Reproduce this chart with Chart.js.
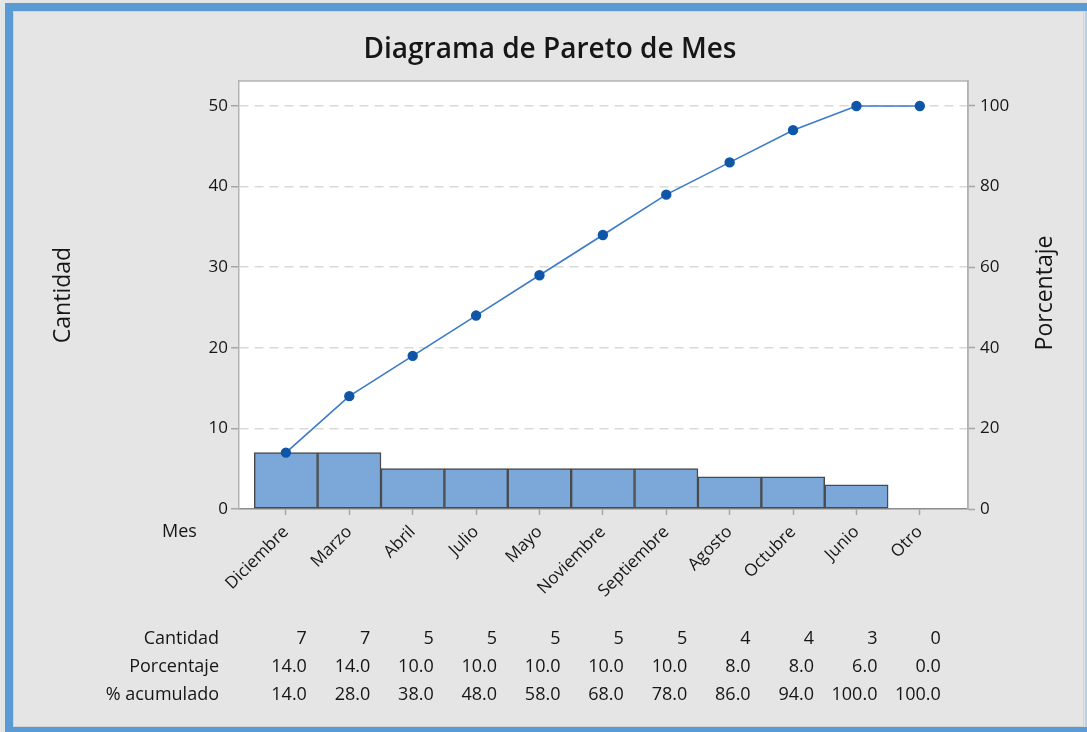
<!DOCTYPE html>
<html><head><meta charset="utf-8">
<script src="https://cdn.jsdelivr.net/npm/chart.js@4.4.0/dist/chart.umd.min.js"></script>
<style>html,body{margin:0;padding:0;background:#e5e5e5;}canvas{display:block;}</style>
</head><body>
<div style="width:1087px;height:732px;position:relative"><canvas id="c" width="1087" height="732"></canvas></div>
<script>
const categories = ["Diciembre","Marzo","Abril","Julio","Mayo","Noviembre","Septiembre","Agosto","Octubre","Junio","Otro"];
const counts = [7,7,5,5,5,5,5,4,4,3,0];
const percents = [14.0,14.0,10.0,10.0,10.0,10.0,10.0,8.0,8.0,6.0,0.0];
const cumulative = [14.0,28.0,38.0,48.0,58.0,68.0,78.0,86.0,94.0,100.0,100.0];
const leftTicks = [0,10,20,30,40,50];
const rightTicks = [0,20,40,60,80,100];
const rowLabels = ["Cantidad","Porcentaje","% acumulado"];
const titleText = "Diagrama de Pareto de Mes";

const FONT = "'Open Sans', 'Noto Sans', sans-serif";
const TXT = '#161616';

const deco = {
  id: 'deco',
  beforeDraw(chart) {
    const {ctx, chartArea: a} = chart;
    ctx.save();
    ctx.fillStyle = '#e5e5e5';
    ctx.fillRect(0, 0, chart.width, chart.height);
    ctx.fillStyle = '#5b9bd5';
    ctx.fillRect(5, 3, 1082, 8);
    ctx.fillRect(5, 3, 8, 729);
    ctx.fillRect(5, 727, 1082, 5);
    ctx.fillStyle = '#b7d0ea';
    ctx.fillRect(1085, 11, 2, 716);
    ctx.strokeStyle = '#d2d2d2';
    ctx.lineWidth = 1;
    ctx.strokeRect(13.5, 11.5, 1070, 715);
    ctx.fillStyle = '#ffffff';
    ctx.fillRect(a.left, a.top, a.right - a.left, a.bottom - a.top);
    ctx.restore();
  },
  afterDraw(chart) {
    const {ctx, chartArea: a, scales} = chart;
    ctx.save();
    ctx.strokeStyle = '#b3b3b3';
    ctx.lineWidth = 1.5;
    ctx.beginPath();
    ctx.moveTo(a.left, a.top); ctx.lineTo(a.right, a.top); ctx.lineTo(a.right, a.bottom);
    ctx.stroke();
    ctx.fillStyle = TXT;
    ctx.font = "600 28px " + FONT;
    ctx.textAlign = 'center'; ctx.textBaseline = 'middle';
    ctx.fillText(titleText, 550, 50);
    ctx.font = "23px " + FONT;
    ctx.save(); ctx.translate(63, 295); ctx.rotate(-Math.PI/2); ctx.fillText("Cantidad", 0, 0); ctx.restore();
    ctx.save(); ctx.translate(1045, 293); ctx.rotate(-Math.PI/2); ctx.fillText("Porcentaje", 0, 0); ctx.restore();
    ctx.font = "18px " + FONT;
    ctx.textAlign = 'left';
    ctx.fillText("Mes", 162, 532);
    const rows = [counts.map(v => String(v)), percents.map(v => v.toFixed(1)), cumulative.map(v => v.toFixed(1))];
    const rowY = [639, 667, 695];
    ctx.textAlign = 'right';
    rows.forEach((r, ri) => {
      ctx.fillText(rowLabels[ri], 219, rowY[ri]);
      r.forEach((t, i) => {
        const x = scales.x.getPixelForValue(i) + 21;
        ctx.fillText(t, x, rowY[ri]);
      });
    });
    ctx.restore();
  }
};

new Chart(document.getElementById('c'), {
  type: 'bar',
  data: {
    datasets: [
      {
        type: 'line',
        data: cumulative.map((v, i) => ({x: i, y: v})),
        yAxisID: 'y1',
        borderColor: '#3a7bc8',
        borderWidth: 1.6,
        pointBackgroundColor: '#0f56a8',
        pointBorderColor: '#0f56a8',
        pointRadius: 4.4,
        tension: 0
      },
      {
        type: 'bar',
        data: counts.map((v, i) => ({x: i, y: v})),
        yAxisID: 'y',
        backgroundColor: '#7ba7d9',
        borderColor: '#4a4a4a',
        borderWidth: 1.5,
        borderSkipped: false,
        barPercentage: 1,
        categoryPercentage: 1
      }
    ]
  },
  plugins: [deco],
  options: {
    responsive: false,
    animation: false,
    layout: {padding: {top: 81, left: 0, right: 0, bottom: 0}},
    plugins: {legend: {display: false}, tooltip: {enabled: false}, title: {display: false}},
    scales: {
      x: {
        type: 'linear',
        offset: false,
        min: -0.74,
        max: 10.76,
        afterFit(s) { s.height = 223; },
        afterBuildTicks(s) { s.ticks = categories.map((c, i) => ({value: i})); },
        ticks: {
          stepSize: 1, includeBounds: false, autoSkip: false,
          minRotation: 45, maxRotation: 45,
          color: TXT, font: {family: FONT, size: 17}, padding: 7,
          callback: (v) => categories[v] ?? ''
        },
        grid: {offset: false, drawOnChartArea: false, drawTicks: true, tickLength: 6, tickColor: '#a6a6a6', tickWidth: 1.5},
        border: {display: true, color: '#8c8c8c', width: 1.5}
      },
      y: {
        position: 'left',
        min: 0, max: 53.1,
        afterFit(s) { s.width = 239; },
        afterBuildTicks(s) { s.ticks = leftTicks.map(v => ({value: v})); },
        ticks: {color: TXT, font: {family: FONT, size: 17}, padding: 3},
        grid: {
          color: (c) => c.tick && c.tick.value === 0 ? 'rgba(0,0,0,0)' : '#d9d9d9',
          lineWidth: 1.5, tickLength: 8, tickColor: '#a6a6a6', tickWidth: 1.5
        },
        border: {display: true, color: '#b3b3b3', width: 1.5, dash: [9, 6]}
      },
      y1: {
        position: 'right',
        min: 0, max: 106.2,
        afterFit(s) { s.width = 119; },
        afterBuildTicks(s) { s.ticks = rightTicks.map(v => ({value: v})); },
        ticks: {color: TXT, font: {family: FONT, size: 17}, padding: 5},
        grid: {drawOnChartArea: false, tickLength: 7, tickColor: '#a6a6a6', tickWidth: 1.5},
        border: {display: true, color: '#b3b3b3', width: 1.5}
      }
    }
  }
});
</script>
</body></html>
